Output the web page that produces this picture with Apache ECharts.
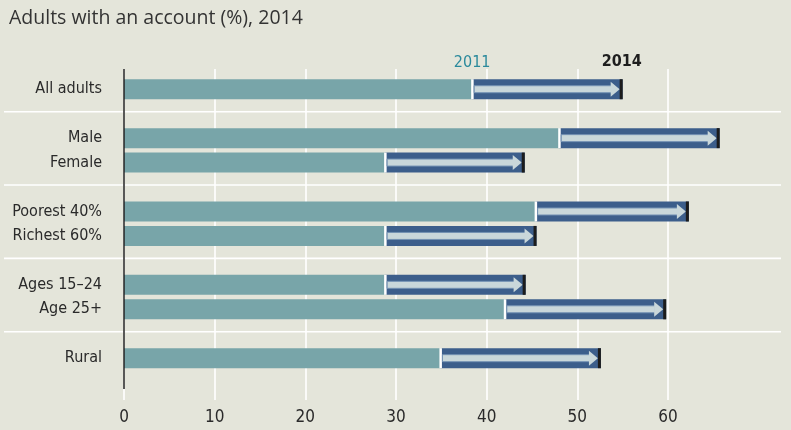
<!DOCTYPE html>
<html>
<head>
<meta charset="utf-8">
<script src="https://cdn.jsdelivr.net/npm/echarts@6/dist/echarts.min.js"></script>
<style>
html,body{margin:0;padding:0;background:#e4e5da;}
#chart{width:791px;height:430px;}
</style>
</head>
<body>
<div id="chart"></div>
<script>
// ---- data ----
const titleText = 'Adults with an account (%), 2014';
const groups = [
  ['All adults'],
  ['Male', 'Female'],
  ['Poorest 40%', 'Richest 60%'],
  ['Ages 15–24', 'Age 25+'],
  ['Rural']
];
const values2011 = [38.4, 48.0, 28.8, 45.4, 28.8, 28.8, 42.0, 34.9];
const values2014 = [55.0, 65.7, 44.2, 62.3, 45.5, 44.3, 59.8, 52.6];
const xTicks = [0, 10, 20, 30, 40, 50, 60];
const years = ['2011', '2014'];

// ---- build category slots (spacer between groups) ----
const slots = [];
const spacerSlots = [];
const rowSlot = [];
groups.forEach((g, gi) => {
  if (gi > 0) { spacerSlots.push(slots.length); slots.push(''); }
  g.forEach(name => { rowSlot.push(slots.length); slots.push(name); });
});
const bar2011 = slots.map(() => null);
rowSlot.forEach((s, i) => { bar2011[s] = values2011[i]; });
const arrowData = rowSlot.map((s, i) => [values2011[i], values2014[i], s]);

// ---- layout ----
const LEFT = 124, GRID_RIGHT_PX = 781, TICK_RIGHT_PX = 668;
const tickMax = xTicks[xTicks.length - 1];
const pxPerUnit = (TICK_RIGHT_PX - LEFT) / tickMax;
const dataMax = (GRID_RIGHT_PX - LEFT) / pxPerUnit;
const BAR_H = 20;
const labelFont = '"Liberation Sans Narrow","DejaVu Sans Condensed","Roboto Condensed",sans-serif';

const COL_2011 = '#78a5a9';
const COL_2014 = '#3c5e8b';
const COL_BAND = '#c9d7da';
const COL_BAND_EDGE = '#7391b3';

const chart = echarts.init(document.getElementById('chart'), null, {renderer: 'canvas'});

const option = {
  backgroundColor: '#e4e5da',
  animation: false,
  title: {
    text: titleText,
    left: 4, top: 3,
    textStyle: {fontFamily: '"Open Sans",sans-serif', fontSize: 19.5, fontWeight: 'normal', color: '#333'}
  },
  grid: [
    {left: LEFT, right: 791 - GRID_RIGHT_PX, top: 77, height: 293.4, containLabel: false},
    {left: LEFT, right: 791 - TICK_RIGHT_PX, top: 69, bottom: 30, containLabel: false}
  ],
  xAxis: [
    {gridIndex: 0, type: 'value', min: 0, max: dataMax, show: false},
    {gridIndex: 1, type: 'value', min: xTicks[0], max: tickMax, interval: 10,
     axisLine: {show: false}, axisTick: {show: false},
     axisLabel: {show: true, margin: 9, color: '#2a2a2a', fontSize: 17, fontFamily: labelFont},
     splitLine: {show: true, lineStyle: {color: '#ffffff', width: 1.6}}}
  ],
  yAxis: [
    {gridIndex: 0, type: 'category', data: slots, inverse: true,
     axisLine: {show: false}, axisTick: {show: false}, splitLine: {show: false},
     axisLabel: {margin: 22, color: '#2a2a2a', fontSize: 16, fontFamily: labelFont}},
    {gridIndex: 1, type: 'value', show: false, min: 0, max: 1}
  ],
  series: [
    {
      name: years[0], type: 'bar', xAxisIndex: 0, yAxisIndex: 0,
      data: bar2011, barWidth: BAR_H, itemStyle: {color: COL_2011}, z: 2
    },
    {
      name: years[1], type: 'custom', xAxisIndex: 0, yAxisIndex: 0, z: 3,
      data: arrowData,
      encode: {x: [0, 1], y: 2},
      renderItem: function (params, api) {
        const s = api.coord([api.value(0), api.value(2)]);
        const e = api.coord([api.value(1), api.value(2)]);
        const y = s[1];
        const x0 = s[0], x1 = e[0];
        const capW = 3, headL = 9, headH = 15, bandH = 7;
        return {
          type: 'group',
          children: [
            {type: 'rect', shape: {x: x0, y: y - BAR_H / 2, width: x1 - x0, height: BAR_H}, style: {fill: COL_2014}},
            {type: 'rect', shape: {x: x0 - 1, y: y - BAR_H / 2, width: 2.5, height: BAR_H}, style: {fill: '#ffffff'}},
            {type: 'rect', shape: {x: x0 + 2, y: y - bandH / 2, width: (x1 - capW - headL + 1) - (x0 + 2), height: bandH},
             style: {fill: COL_BAND, stroke: COL_BAND_EDGE, lineWidth: 1}},
            {type: 'polygon', shape: {points: [[x1 - capW - headL, y - headH / 2], [x1 - capW, y], [x1 - capW - headL, y + headH / 2]]},
             style: {fill: COL_BAND}},
            {type: 'rect', shape: {x: x1 - capW, y: y - BAR_H / 2, width: capW, height: BAR_H}, style: {fill: '#1c1c1c'}}
          ]
        };
      }
    }
  ]
};
chart.setOption(option);

// ---- overlays positioned through the axes ----
const graphics = [];
spacerSlots.forEach(si => {
  const py = chart.convertToPixel({yAxisIndex: 0}, si) - 2;
  graphics.push({type: 'line', shape: {x1: 4, y1: py, x2: GRID_RIGHT_PX, y2: py},
    style: {stroke: '#ffffff', lineWidth: 1.6}, z: 1});
});
const x0px = chart.convertToPixel({xAxisIndex: 1}, 0);
graphics.push({type: 'line', shape: {x1: x0px, y1: 69, x2: x0px, y2: 389},
  style: {stroke: '#222222', lineWidth: 1.5}, z: 10});
const firstSlot = rowSlot[0];
const y0 = chart.convertToPixel({yAxisIndex: 0}, firstSlot);
const lx2011 = chart.convertToPixel({xAxisIndex: 0}, values2011[0]);
const lx2014 = chart.convertToPixel({xAxisIndex: 0}, values2014[0]);
graphics.push({type: 'text', x: lx2011, y: y0 - 26, z: 10,
  style: {text: years[0], fill: '#2b8a9c', font: '16px ' + labelFont, textAlign: 'center', textVerticalAlign: 'middle'}});
graphics.push({type: 'text', x: lx2014 - 1, y: y0 - 27, z: 10,
  style: {text: years[1], fill: '#1e1e1e', font: 'bold 16px ' + labelFont, textAlign: 'center', textVerticalAlign: 'middle'}});
chart.setOption({graphic: graphics});
</script>
</body>
</html>
